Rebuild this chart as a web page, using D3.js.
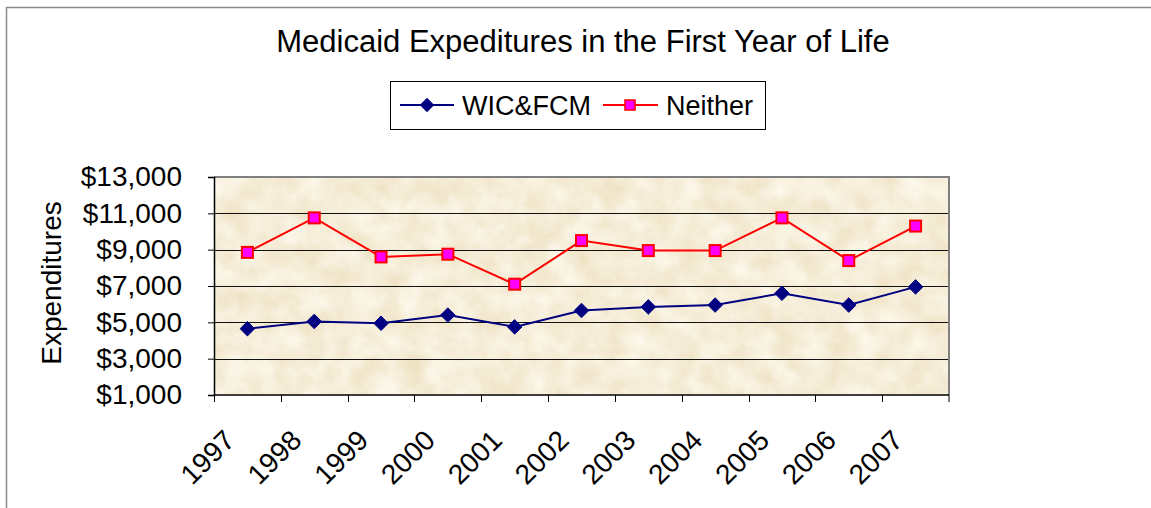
<!DOCTYPE html>
<html lang="en">
<head>
    <meta charset="UTF-8">
    <title>Medicaid Expeditures in the First Year of Life</title>
    <script src="https://d3js.org/d3.v7.min.js"></script>
</head>
<body>
    <div id="chart"></div>
    <script>
        // Data
        const years = ['1997', '1998', '1999', '2000', '2001', '2002', '2003', '2004', '2005', '2006', '2007'];
        const wicFcm = [4650, 5050, 4950, 5400, 4750, 5650, 5850, 5950, 6600, 5950, 6950];
        const neither = [8850, 10750, 8600, 8750, 7100, 9500, 8950, 8950, 10750, 8400, 10300];
        const yTicks = [1000, 3000, 5000, 7000, 9000, 11000, 13000];

        const width = 1151;
        const height = 508;
        const plot = { left: 214, right: 949, top: 177, bottom: 395 };
        const font = 'Liberation Sans, Arial, sans-serif';

        const svg = d3.select('#chart')
            .append('svg')
            .attr('width', width)
            .attr('height', height)
            .style('font-family', font);

        // Parchment texture for the plot area
        const defs = svg.append('defs');
        const filter = defs.append('filter')
            .attr('id', 'parchment')
            .attr('x', 0).attr('y', 0).attr('width', 1).attr('height', 1);
        filter.append('feTurbulence')
            .attr('type', 'fractalNoise')
            .attr('baseFrequency', '0.04 0.045')
            .attr('numOctaves', 5)
            .attr('seed', 3);
        filter.append('feColorMatrix')
            .attr('type', 'matrix')
            .attr('values', '0.14 0 0 0 0.85  0.24 0 0 0 0.73  0.38 0 0 0 0.50  0 0 0 0 1');

        // outer frame
        svg.append('path')
            .attr('d', `M6.5,${height} V7.5 H${width}`)
            .attr('fill', 'none')
            .attr('stroke', '#8a8a8a')
            .attr('stroke-width', 1.5);

        // Title
        svg.append('text')
            .attr('x', 583)
            .attr('y', 52)
            .attr('text-anchor', 'middle')
            .style('font-size', '31px')
            .text('Medicaid Expeditures in the First Year of Life');

        // Scales
        const x = d3.scaleBand().domain(years).range([plot.left, plot.right]);
        const y = d3.scaleLinear().domain([1000, 13000]).range([plot.bottom, plot.top]);

        // Plot background
        svg.append('rect')
            .attr('x', plot.left)
            .attr('y', plot.top)
            .attr('width', plot.right - plot.left)
            .attr('height', plot.bottom - plot.top)
            .attr('fill', '#ecd9b0')
            .attr('filter', 'url(#parchment)');

        // Gridlines
        svg.append('g')
            .selectAll('line')
            .data(yTicks.slice(1, -1))
            .join('line')
            .attr('x1', plot.left)
            .attr('x2', plot.right)
            .attr('y1', d => Math.round(y(d)) + 0.5)
            .attr('y2', d => Math.round(y(d)) + 0.5)
            .attr('stroke', '#111')
            .attr('stroke-width', 1);

        // top and right border of plot area
        svg.append('path')
            .attr('d', `M${plot.left},${plot.top} H${plot.right} V${plot.bottom}`)
            .attr('fill', 'none')
            .attr('stroke', '#808080')
            .attr('stroke-width', 2);

        // Y axis
        const yAxis = svg.append('g')
            .attr('transform', `translate(${plot.left},0)`)
            .call(d3.axisLeft(y)
                .tickValues(yTicks)
                .tickFormat(d => '$' + d3.format(',')(d))
                .tickSize(6)
                .tickPadding(26));
        yAxis.select('.domain').attr('stroke', '#000').attr('stroke-width', 1.5);
        yAxis.selectAll('.tick line').attr('stroke', '#000');
        yAxis.selectAll('text')
            .style('font-size', '28px')
            .style('font-family', font)
            .attr('fill', '#000');

        // X axis, ticks on category boundaries
        const xAxis = svg.append('g');
        xAxis.append('line')
            .attr('x1', plot.left)
            .attr('x2', plot.right)
            .attr('y1', plot.bottom)
            .attr('y2', plot.bottom)
            .attr('stroke', '#000')
            .attr('stroke-width', 1.5);
        xAxis.selectAll('.xtick')
            .data(years.concat(['end']))
            .join('line')
            .attr('class', 'xtick')
            .attr('x1', d => d === 'end' ? plot.right : Math.round(x(d)) + 0.5)
            .attr('x2', d => d === 'end' ? plot.right : Math.round(x(d)) + 0.5)
            .attr('y1', plot.bottom)
            .attr('y2', plot.bottom + 7)
            .attr('stroke', '#000');
        xAxis.selectAll('.xlabel')
            .data(years)
            .join('text')
            .attr('class', 'xlabel')
            .attr('transform', d => `translate(${x(d) + x.bandwidth() / 2 - 11},${plot.bottom + 47}) rotate(-45)`)
            .attr('text-anchor', 'end')
            .style('font-size', '28px')
            .text(d => d);

        // Y axis title
        svg.append('text')
            .attr('transform', 'translate(61,283) rotate(-90)')
            .attr('text-anchor', 'middle')
            .style('font-size', '28px')
            .text('Expenditures');

        // Lines
        const cx = i => x(years[i]) + x.bandwidth() / 2;
        const line = d3.line()
            .x((d, i) => cx(i))
            .y(d => y(d));

        svg.append('path')
            .datum(neither)
            .attr('d', line)
            .attr('fill', 'none')
            .attr('stroke', '#ff0000')
            .attr('stroke-width', 2);

        svg.append('path')
            .datum(wicFcm)
            .attr('d', line)
            .attr('fill', 'none')
            .attr('stroke', '#000080')
            .attr('stroke-width', 2);

        const diamond = d3.symbol().type(d3.symbolDiamond2).size(135);
        svg.append('g')
            .selectAll('path')
            .data(wicFcm)
            .join('path')
            .attr('transform', (d, i) => `translate(${cx(i)},${y(d)})`)
            .attr('d', diamond)
            .attr('fill', '#000080')
            .attr('stroke', '#000080')
            .attr('stroke-width', 1);

        svg.append('g')
            .selectAll('rect')
            .data(neither)
            .join('rect')
            .attr('x', (d, i) => cx(i) - 5.5)
            .attr('y', d => y(d) - 5.5)
            .attr('width', 11)
            .attr('height', 11)
            .attr('fill', '#ff00ff')
            .attr('stroke', '#ff0000')
            .attr('stroke-width', 2);

        // Legend
        const legend = svg.append('g');
        legend.append('rect')
            .attr('x', 390.5)
            .attr('y', 81.5)
            .attr('width', 375)
            .attr('height', 48)
            .attr('fill', '#fff')
            .attr('stroke', '#000')
            .attr('stroke-width', 1);

        legend.append('line')
            .attr('x1', 400).attr('x2', 454)
            .attr('y1', 105).attr('y2', 105)
            .attr('stroke', '#000080').attr('stroke-width', 2);
        legend.append('path')
            .attr('transform', 'translate(427,105)')
            .attr('d', diamond)
            .attr('fill', '#000080');
        legend.append('text')
            .attr('x', 462)
            .attr('y', 115)
            .style('font-size', '27px')
            .text('WIC&FCM');

        legend.append('line')
            .attr('x1', 603).attr('x2', 658)
            .attr('y1', 105).attr('y2', 105)
            .attr('stroke', '#ff0000').attr('stroke-width', 2);
        legend.append('rect')
            .attr('x', 625).attr('y', 100)
            .attr('width', 10).attr('height', 10)
            .attr('fill', '#ff00ff')
            .attr('stroke', '#ff0000')
            .attr('stroke-width', 1.5);
        legend.append('text')
            .attr('x', 666)
            .attr('y', 115)
            .style('font-size', '27px')
            .text('Neither');
    </script>
</body>
<style>
    body {
        margin: 0;
        background: #fff;
    }
</style>
</html>
